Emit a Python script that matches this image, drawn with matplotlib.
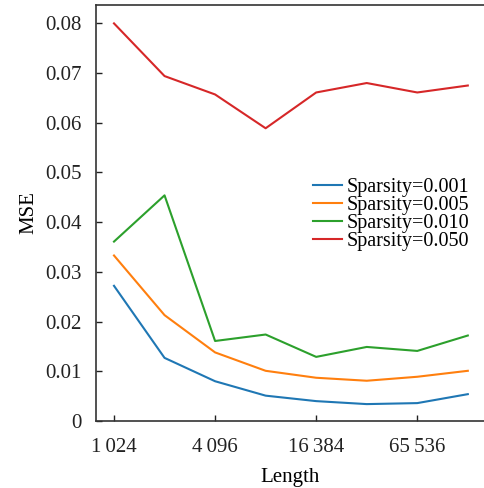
import matplotlib
matplotlib.use("Agg")
import matplotlib.pyplot as plt
from matplotlib.ticker import FixedLocator, FixedFormatter

plt.rcParams['font.family'] = ['Liberation Serif', 'DejaVu Serif']
plt.rcParams['font.size'] = 15

lengths = [1024, 2048, 4096, 8192, 16384, 32768, 65536, 131072]
mse_0001 = [0.0272, 0.0127, 0.0080, 0.0051, 0.0040, 0.0034, 0.0036, 0.0054]
mse_0005 = [0.0333, 0.0213, 0.0138, 0.0101, 0.0087, 0.0081, 0.0089, 0.0101]
mse_0010 = [0.0361, 0.0454, 0.0161, 0.0174, 0.0129, 0.0149, 0.0141, 0.0172]
mse_0050 = [0.0800, 0.0694, 0.0657, 0.0589, 0.0661, 0.0680, 0.0661, 0.0675]
series_labels = ["Sparsity=0.001", "Sparsity=0.005", "Sparsity=0.010", "Sparsity=0.050"]
colors = ["#1f77b4", "#ff7f0e", "#2ca02c", "#d62728"]
xtick_vals = [1024, 4096, 16384, 65536]
xtick_labels = ["1\u2009024", "4\u2009096", "16\u2009384", "65\u2009536"]
ytick_vals = [0, 0.01, 0.02, 0.03, 0.04, 0.05, 0.06, 0.07, 0.08]
ytick_labels = ["0", "0.01", "0.02", "0.03", "0.04", "0.05", "0.06", "0.07", "0.08"]

fig = plt.figure(figsize=(4.85, 4.88), dpi=100)
ax = fig.add_axes([96/485, 1-421/488, 1-96/485, (421-5)/488])

for ys, lab, c in zip([mse_0001, mse_0005, mse_0010, mse_0050], series_labels, colors):
    ax.plot(lengths, ys, color=c, lw=1.5, label=lab)

ax.set_xscale('log', base=2)
ax.set_xlim(2**9.644, 2**17.34)
ax.set_ylim(0, 0.0837)
ax.xaxis.set_major_locator(FixedLocator(xtick_vals))
ax.xaxis.set_major_formatter(FixedFormatter(xtick_labels))
ax.xaxis.set_minor_locator(FixedLocator([]))
ax.yaxis.set_major_locator(FixedLocator(ytick_vals))
ax.yaxis.set_major_formatter(FixedFormatter(ytick_labels))
ax.tick_params(axis='both', which='major', direction='in', length=4, width=1,
               labelsize=15, colors='#222222')
ax.tick_params(axis='y', pad=10)
ax.tick_params(axis='x', pad=12)
ax.spines['right'].set_visible(False)
for s in ['left', 'bottom', 'top']:
    ax.spines[s].set_linewidth(1.2)
    ax.spines[s].set_color('#333333')

ax.set_xlabel("Length", fontsize=15, labelpad=8)
ax.set_ylabel("MSE", fontsize=15, labelpad=5)

ax.legend(loc='upper left', bbox_to_anchor=(0.548, 0.594), frameon=False,
          handlelength=1.45, handletextpad=0.2, labelspacing=-0.05, borderpad=0.2,
          borderaxespad=0, fontsize=14.5)

fig.savefig("out.png", dpi=100)
